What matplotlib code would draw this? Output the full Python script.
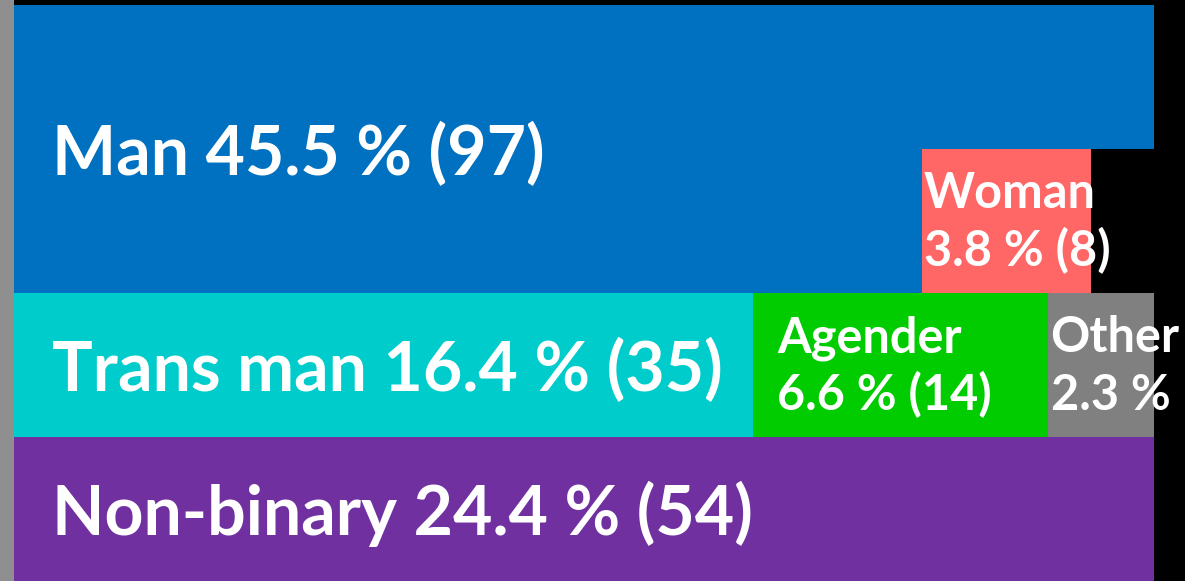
import matplotlib
matplotlib.use("Agg")
import matplotlib.pyplot as plt
from matplotlib.patches import Rectangle

# ---- data ----
categories = ["Man", "Woman", "Trans man", "Agender", "Other", "Non-binary"]
counts = [97, 8, 35, 14, 5, 54]
percent_labels = ["45.5 %", "3.8 %", "16.4 %", "6.6 %", "2.3 %", "24.4 %"]
count_labels = ["(97)", "(8)", "(35)", "(14)", "", "(54)"]
groups = [["Man", "Woman"], ["Trans man", "Agender", "Other"], ["Non-binary"]]

# ---- style ----
colors = {"Man": "#0070C0", "Woman": "#FF6666", "Trans man": "#00CCCC",
          "Agender": "#00CC00", "Other": "#808080", "Non-binary": "#7030A0"}
two_line = {"Woman", "Agender", "Other"}
label_pad = {"Man": 1.8, "Woman": 0.1, "Trans man": 1.8, "Agender": 1.15,
             "Other": 0.1, "Non-binary": 1.8}
ROW_UNITS = 54
FONT = "Lato"
BIG, SMALL = 49, 35
BIG_BASE = 0.18            # baseline offset below centre (rows)
SMALL_BASES = (-0.09, 0.31)

W, H = 1185, 581
fig = plt.figure(figsize=(W / 100, H / 100), dpi=100, facecolor="black")
fig.patches.append(Rectangle((0, 0), 14 / W, 1, transform=fig.transFigure,
                             facecolor="#8f8f8f", edgecolor="none", zorder=0))
ax = fig.add_axes([14 / W, 0, (1154 - 14) / W, (H - 5) / H])
ax.set_facecolor("black")

value_of = dict(zip(categories, counts))
idx_of = {c: i for i, c in enumerate(categories)}

row = 0
for grp in groups:
    col = 0
    for cat in grp:
        remaining = value_of[cat]
        segs = []
        while remaining > 0:
            if col >= ROW_UNITS:
                row += 1
                col = 0
            w = min(remaining, ROW_UNITS - col)
            ax.barh(row + 0.5, w, left=col, height=1.0, color=colors[cat],
                    edgecolor="none", linewidth=0)
            segs.append((row, col, w))
            col += w
            remaining -= w
        i = idx_of[cat]
        rows_used = [s[0] for s in segs]
        ycen = (min(rows_used) + max(rows_used) + 1) / 2
        xleft = min(s[1] for s in segs)
        kw = dict(color="white", fontfamily=FONT, fontweight="bold",
                  ha="left", va="baseline", clip_on=False)
        if cat in two_line:
            second = percent_labels[i] + (" " + count_labels[i] if count_labels[i] else "")
            ax.text(xleft + label_pad[cat], ycen + SMALL_BASES[0], cat, fontsize=SMALL, **kw)
            ax.text(xleft + label_pad[cat], ycen + SMALL_BASES[1], second, fontsize=SMALL, **kw)
        else:
            txt = f"{cat} {percent_labels[i]} {count_labels[i]}"
            ax.text(xleft + label_pad[cat], ycen + BIG_BASE, txt, fontsize=BIG, **kw)
    row += 1

ax.set_xlim(0, ROW_UNITS)
ax.set_ylim(row, 0)
ax.axis("off")
fig.savefig("out.png", dpi=100, facecolor="black")
